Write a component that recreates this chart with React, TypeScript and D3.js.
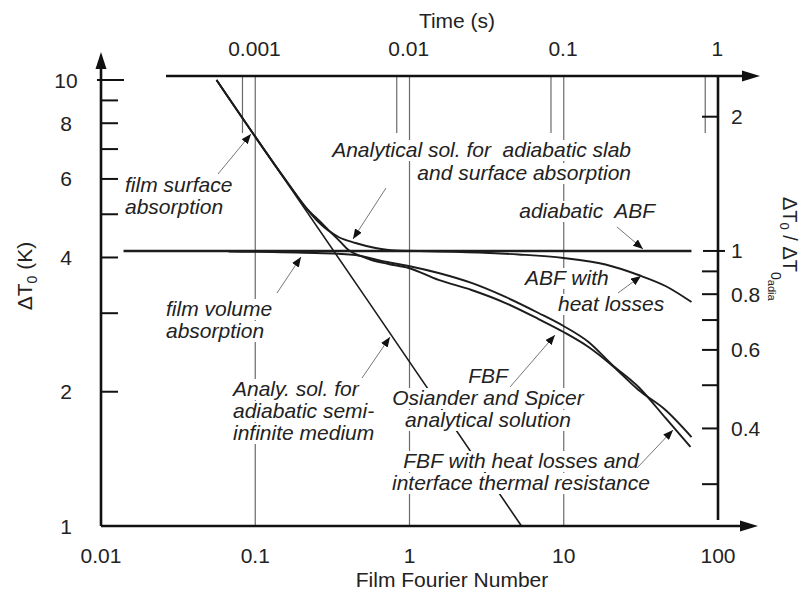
import React, { useEffect, useRef } from "react";
import * as d3 from "d3";

// [film Fourier number, ΔT0 (K)]
const semiInfinite = [[0.0561, 10], [0.55, 3.16], [5.32, 1]];
const slabSurface = [
  [0.0561, 10], [0.1643, 5.846], [0.2117, 5.19], [0.257, 4.803], [0.3465, 4.446],
  [0.4467, 4.311], [0.6021, 4.201], [0.8114, 4.147], [1.328, 4.137],
];
const adiabaticABF = [[0.014, 4.137], [67.3, 4.137]];
const abfLosses = [
  [1.144, 4.137], [2.802, 4.104], [5.089, 4.062], [9.96, 3.99], [18.65, 3.858],
  [30.52, 3.654], [45.66, 3.452], [67.33, 3.178],
];
const fbfVolume = [
  [0.0671, 4.126], [0.2459, 4.094], [0.4467, 4.052], [0.6584, 3.928], [0.9852, 3.828],
  [1.542, 3.692], [2.523, 3.507], [4.192, 3.262], [6.861, 3.003], [9.96, 2.808],
  [14.47, 2.586], [20.4, 2.307], [30.52, 2.05], [45.66, 1.747], [66.33, 1.504],
];
const fbfSurfaceLosses = [
  [0.0561, 10], [0.1643, 5.846], [0.2117, 5.19], [0.2649, 4.803], [0.3121, 4.539],
  [0.3569, 4.334], [0.4023, 4.157], [0.4813, 4.031], [0.567, 3.948], [0.7309, 3.867],
  [0.9852, 3.789], [1.542, 3.562], [2.523, 3.382], [4.192, 3.162], [6.861, 2.911],
  [9.96, 2.723], [14.47, 2.52], [20.4, 2.296], [30.52, 2.018], [45.66, 1.82], [67.33, 1.583],
];

const adiaLevel = 4.137; // ΔT0 of the adiabatic ABF, = 1 on the right axis
const secondsPerFourier = 0.0121;

const foLabels = [0.01, 0.1, 1, 10, 100];
const foGrid = [0.1, 1, 10];
const timeTicks = [0.001, 0.01, 0.1, 1];
const leftTicks = [2, 3, 4, 5, 6, 7, 8, 9, 10];
const leftLabels = [1, 2, 4, 6, 8, 10];
const ratioTicks = [0.3, 0.4, 0.5, 0.6, 0.7, 0.8, 0.9, 1, 2];
const ratioLabels = [0.4, 0.6, 0.8, 1, 2];

const font = "'Liberation Sans', Arial, sans-serif";

// annotation layout (pixels): text, x, baseline, anchor
const notes = [
  ["film surface", 125, 192, "start"],
  ["absorption", 125, 214, "start"],
  ["Analytical sol. for\u00A0 adiabatic slab", 631, 157, "end"],
  ["and surface absorption", 631, 180, "end"],
  ["adiabatic\u00A0 ABF", 655, 218, "end"],
  ["ABF with", 525, 285, "start"],
  ["heat losses", 558, 311, "start"],
  ["film volume", 166, 316, "start"],
  ["absorption", 166, 338, "start"],
  ["Analy. sol. for", 233, 396, "start"],
  ["adiabatic semi-", 233, 418, "start"],
  ["infinite medium", 233, 440, "start"],
  ["FBF", 488, 383, "middle"],
  ["Osiander and Spicer", 488, 405, "middle"],
  ["analytical solution", 488, 427, "middle"],
  ["FBF with heat losses and", 521, 468, "middle"],
  ["interface thermal resistance", 521, 490, "middle"],
];

const leaders = [
  [218, 174, 251, 134],
  [386, 188, 353, 239],
  [617, 227, 643, 249],
  [618, 293, 641, 276],
  [277, 293, 301, 257],
  [362, 378, 390, 337],
  [510, 387, 555, 335],
  [637, 468, 673, 430],
];

export default function App() {
  const ref = useRef<SVGSVGElement>(null);

  useEffect(() => {
    document.body.style.margin = "0";
    const svg = d3.select(ref.current);
    svg.selectAll("*").remove();

    const x = d3.scaleLog().domain([0.01, 100]).range([101, 718]);
    const y = d3.scaleLog().domain([1, 10]).range([526, 80]);
    const yR = d3.scaleLog().domain([1 / adiaLevel, 10 / adiaLevel]).range([526, 80]);
    const xT = d3.scaleLog()
      .domain([0.01 * secondsPerFourier, 100 * secondsPerFourier])
      .range([101, 718]);

    const topY = 76;
    const grey = "#6a6a6a";
    const ink = "#1c1c1c";

    const defs = svg.append("defs");
    defs.append("marker")
      .attr("id", "head")
      .attr("markerUnits", "userSpaceOnUse")
      .attr("markerWidth", 10).attr("markerHeight", 8)
      .attr("refX", 10).attr("refY", 4)
      .attr("orient", "auto")
      .append("path").attr("d", "M0,0L10,4L0,8Z").attr("fill", "#111");

    // grid lines at Fo = 0.1, 1, 10
    svg.append("g").selectAll("line").data(foGrid).join("line")
      .attr("x1", d => x(d)).attr("x2", d => x(d))
      .attr("y1", topY).attr("y2", y(1))
      .attr("stroke", grey).attr("stroke-width", 1.2);

    // time ticks
    svg.append("g").selectAll("line").data(timeTicks).join("line")
      .attr("x1", d => xT(d)).attr("x2", d => xT(d))
      .attr("y1", topY).attr("y2", 133)
      .attr("stroke", grey).attr("stroke-width", 1.2);

    const line = d3.line<number[]>()
      .x(d => x(d[0]))
      .y(d => y(d[1]))
      .curve(d3.curveMonotoneX);

    svg.append("path").datum(semiInfinite)
      .attr("d", line).attr("fill", "none")
      .attr("stroke", ink).attr("stroke-width", 1.6);

    // annotations, each line on a white backing that breaks the lines behind
    notes.forEach(([s, lx, ly, anchor]) => {
      const g = svg.append("g");
      const t = g.append("text")
        .attr("font-family", font).attr("font-size", 21)
        .attr("font-style", "italic").attr("fill", "#222")
        .attr("text-anchor", anchor as string)
        .attr("x", lx).attr("y", ly).text(s as string);
      const b = (t.node() as SVGTextElement).getBBox();
      g.insert("rect", ":first-child")
        .attr("x", b.x - 2).attr("y", b.y + 2)
        .attr("width", b.width + 4).attr("height", b.height - 2)
        .attr("fill", "#fff");
    });

    const curves = [
      { d: slabSurface, w: 1.9 },
      { d: fbfSurfaceLosses, w: 1.9 },
      { d: fbfVolume, w: 1.9 },
      { d: abfLosses, w: 1.9 },
      { d: adiabaticABF, w: 2.6 },
    ];
    curves.forEach(c => {
      svg.append("path").datum(c.d)
        .attr("d", line).attr("fill", "none")
        .attr("stroke", ink).attr("stroke-width", c.w);
    });

    svg.append("g").selectAll("line").data(leaders).join("line")
      .attr("x1", d => d[0]).attr("y1", d => d[1])
      .attr("x2", d => d[2]).attr("y2", d => d[3])
      .attr("stroke", "#777").attr("stroke-width", 1)
      .attr("marker-end", "url(#head)");

    // axes
    const axes = svg.append("g").attr("stroke", "#111").attr("fill", "none");
    const x0 = x(0.01);
    const xr = x(100);
    axes.append("line").attr("x1", x0).attr("x2", x0).attr("y1", y(1)).attr("y2", 62).attr("stroke-width", 2.6);
    axes.append("line").attr("x1", x0).attr("x2", 744).attr("y1", y(1)).attr("y2", y(1)).attr("stroke-width", 2.4);
    axes.append("line").attr("x1", 166).attr("x2", 746).attr("y1", topY).attr("y2", topY).attr("stroke-width", 2.4);
    axes.append("line").attr("x1", xr).attr("x2", xr).attr("y1", topY).attr("y2", 520).attr("stroke-width", 2.6);

    const heads = svg.append("g").attr("fill", "#111");
    heads.append("path").attr("d", `M${x0},52L${x0 - 5.5},69L${x0 + 5.5},69Z`);
    heads.append("path").attr("d", `M758,${y(1)}L740,${y(1) - 5.5}L740,${y(1) + 5.5}Z`);
    heads.append("path").attr("d", `M760,${topY}L742,${topY - 5.5}L742,${topY + 5.5}Z`);

    axes.append("g").selectAll("line").data(leftTicks).join("line")
      .attr("x1", d => (d === 10 ? x0 - 4 : x0)).attr("x2", d => (d === 10 ? x0 + 23 : x0 + 17))
      .attr("y1", d => y(d)).attr("y2", d => y(d)).attr("stroke-width", 2);

    axes.append("g").selectAll("line").data(ratioTicks).join("line")
      .attr("x1", d => (d === 1 ? xr - 15 : xr - 16)).attr("x2", d => (d === 1 ? xr + 7 : xr))
      .attr("y1", d => yR(d)).attr("y2", d => yR(d)).attr("stroke-width", 2);

    const label = (sel: any) => sel
      .attr("font-family", font).attr("font-size", 21).attr("fill", "#222");

    svg.append("g").call(label).attr("text-anchor", "middle")
      .selectAll("text").data(leftLabels).join("text")
      .attr("x", 66).attr("y", d => y(d) + 7.5).text(d => d);

    svg.append("g").call(label).attr("text-anchor", "start")
      .selectAll("text").data(ratioLabels).join("text")
      .attr("x", 731).attr("y", d => yR(d) + 7.5).text(d => d);

    svg.append("g").call(label).attr("text-anchor", "middle")
      .selectAll("text").data(foLabels).join("text")
      .attr("x", d => x(d)).attr("y", 563).text(d => d);

    svg.append("g").call(label).attr("text-anchor", "middle")
      .selectAll("text").data(timeTicks).join("text")
      .attr("x", d => xT(d) + 12).attr("y", 56).text(d => d);

    svg.append("text").call(label).attr("text-anchor", "middle")
      .attr("x", 452).attr("y", 587).text("Film Fourier Number");
    svg.append("text").call(label).attr("text-anchor", "middle")
      .attr("x", 457).attr("y", 28).text("Time (s)");

    const lt = svg.append("text").call(label).attr("text-anchor", "middle")
      .attr("transform", "translate(32,276) rotate(-90)");
    lt.append("tspan").text("ΔT");
    lt.append("tspan").attr("font-size", 14).attr("dy", 5).text("0");
    lt.append("tspan").attr("dy", -5).text(" (K)");

    const rt = svg.append("text").call(label).attr("font-size", 20).attr("text-anchor", "start")
      .attr("transform", "translate(783,197) rotate(90)");
    rt.append("tspan").text("ΔT");
    rt.append("tspan").attr("font-size", 13).attr("dy", 3).text("0");
    rt.append("tspan").attr("dy", -3).text(" / ΔT");
    rt.append("tspan").attr("font-size", 14).attr("dy", 12).text("0");
    rt.append("tspan").attr("font-size", 11).attr("dy", 3).text("adia");
  }, []);

  return <svg ref={ref} width={803} height={590} style={{ display: "block", background: "#fff" }} />;
}
